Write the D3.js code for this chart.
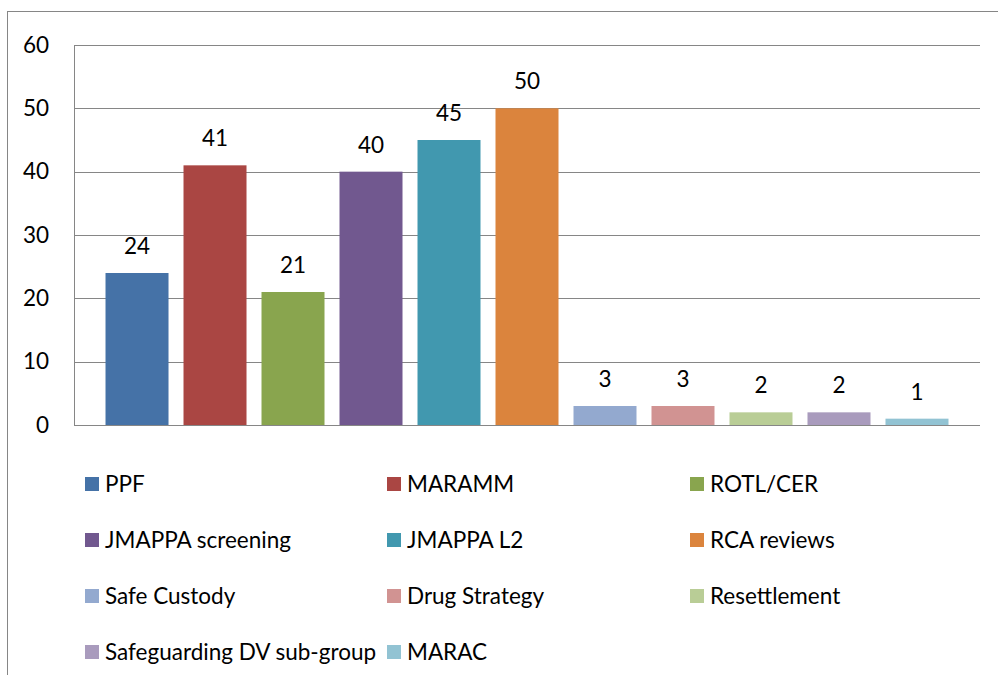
<!DOCTYPE html>
<html>
<head>
<meta charset="utf-8">
<script src="https://cdnjs.cloudflare.com/ajax/libs/d3/7.8.5/d3.min.js"></script>
<style>
  html, body { margin: 0; padding: 0; background: #fff; }
  svg { display: block; }
  text { font-family: Lato, "Open Sans", sans-serif; fill: #000; }
</style>
</head>
<body>
<svg id="chart" width="998" height="675"></svg>
<script>
  // series names, one bar each
  var seriesNames = ['PPF', 'MARAMM', 'ROTL/CER', 'JMAPPA screening', 'JMAPPA L2',
    'RCA reviews', 'Safe Custody', 'Drug Strategy', 'Resettlement',
    'Safeguarding DV sub-group', 'MARAC'];
  var seriesValues = [24, 41, 21, 40, 45, 50, 3, 3, 2, 2, 1];
  var seriesColors = ['#4572A7', '#AA4643', '#89A54E', '#71588F', '#4198AF',
    '#DB843D', '#93A9CF', '#D19392', '#B9CD96', '#A99BBD', '#92C3D3'];
  var yTicks = [0, 10, 20, 30, 40, 50, 60];

  var svg = d3.select('#chart');
  var plot = {left: 74, right: 980, top: 45, bottom: 425};
  var gridColor = '#868686';
  var fontSize = 22.5;

  // outer chart frame (runs off the right / bottom edge)
  svg.append('rect')
    .attr('x', 7.5).attr('y', 11.5)
    .attr('width', 1020).attr('height', 700)
    .attr('fill', 'none')
    .attr('stroke', gridColor);

  var x = d3.scaleBand()
    .domain(seriesNames)
    .range([plot.left, plot.right])
    .paddingInner(0.1923)
    .paddingOuter(0.404);

  var y = d3.scaleLinear()
    .domain([0, 60])
    .range([plot.bottom, plot.top]);

  // gridlines + y labels
  var yAxis = d3.axisLeft(y)
    .tickValues(yTicks)
    .tickSize(-(plot.right - plot.left))
    .tickPadding(25)
    .tickFormat(d3.format('d'));

  var gy = svg.append('g')
    .attr('transform', 'translate(' + plot.left + ',0)')
    .call(yAxis);
  gy.select('.domain').remove();
  gy.selectAll('.tick line')
    .attr('stroke', gridColor)
    .attr('shape-rendering', 'crispEdges');
  gy.selectAll('.tick text')
    .attr('font-size', fontSize)
    .attr('font-family', 'Lato, "Open Sans", sans-serif')
    .attr('fill', '#000');

  // left axis line
  svg.append('line')
    .attr('x1', plot.left + 0.5).attr('x2', plot.left + 0.5)
    .attr('y1', plot.top).attr('y2', plot.bottom)
    .attr('stroke', gridColor);

  // bars
  svg.append('g').selectAll('rect')
    .data(seriesNames)
    .join('rect')
    .attr('x', function(d) { return x(d); })
    .attr('y', function(d, i) { return y(seriesValues[i]); })
    .attr('width', x.bandwidth())
    .attr('height', function(d, i) { return y(0) - y(seriesValues[i]); })
    .attr('fill', function(d, i) { return seriesColors[i]; });

  // value labels
  svg.append('g').selectAll('text')
    .data(seriesNames)
    .join('text')
    .attr('x', function(d) { return x(d) + x.bandwidth() / 2; })
    .attr('y', function(d, i) { return y(seriesValues[i]) - 19; })
    .attr('text-anchor', 'middle')
    .attr('font-size', fontSize)
    .text(function(d, i) { return seriesValues[i]; });

  // legend, 3 columns
  var legendCols = [85, 387, 690];
  var legendRow0 = 484, legendRowStep = 56;

  var items = svg.append('g').selectAll('g')
    .data(seriesNames)
    .join('g')
    .attr('transform', function(d, i) {
      return 'translate(' + legendCols[i % 3] + ',' + (legendRow0 + Math.floor(i / 3) * legendRowStep) + ')';
    });

  items.append('rect')
    .attr('x', 0).attr('y', -7)
    .attr('width', 14).attr('height', 14)
    .attr('fill', function(d, i) { return seriesColors[i]; });

  items.append('text')
    .attr('x', 20)
    .attr('y', 0)
    .attr('dy', '0.35em')
    .attr('font-size', fontSize)
    .text(function(d) { return d; });
</script>
</body>
</html>
